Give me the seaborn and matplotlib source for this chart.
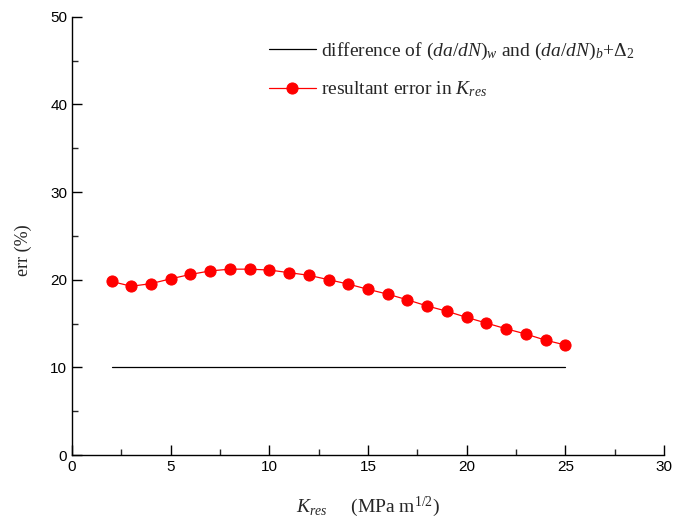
import matplotlib
matplotlib.use("Agg")
import matplotlib.pyplot as plt
import seaborn as sns
import pandas as pd
import numpy as np

k_res = [2, 3, 4, 5, 6, 7, 8, 9, 10, 11, 12, 13, 14, 15, 16, 17, 18, 19, 20, 21, 22, 23, 24, 25]
err_res = [19.8, 19.25, 19.55, 20.1, 20.6, 21.0, 21.2, 21.2, 21.1, 20.8, 20.5, 20.0, 19.5, 18.9,
           18.35, 17.7, 17.0, 16.4, 15.7, 15.05, 14.4, 13.8, 13.1, 12.55]
k_diff = [2, 25]
err_diff = [10, 10]

x_ticks = [0, 5, 10, 15, 20, 25, 30]
y_ticks = [0, 10, 20, 30, 40, 50]

sns.set_style("ticks")
plt.rcParams['font.family'] = ['Liberation Sans', 'DejaVu Sans']
plt.rcParams['mathtext.fontset'] = 'custom'
plt.rcParams['mathtext.rm'] = 'Liberation Serif'
plt.rcParams['mathtext.it'] = 'Liberation Serif:italic'
plt.rcParams['mathtext.bf'] = 'Liberation Serif:bold'
plt.rcParams['xtick.direction'] = 'in'
plt.rcParams['ytick.direction'] = 'in'

df_res = pd.DataFrame({"K": k_res, "err": err_res})
df_diff = pd.DataFrame({"K": k_diff, "err": err_diff})

fig = plt.figure(figsize=(6.74, 5.30), dpi=100)
ax = fig.add_axes([0.107, 0.1415, 0.878, 0.827])

sns.lineplot(data=df_diff, x="K", y="err", ax=ax, color="black", linewidth=0.9,
             label=r"difference of $(\it{da/dN})_{w}$ and $(\it{da/dN})_{b}$+$\Delta_{2}$")
sns.lineplot(data=df_res, x="K", y="err", ax=ax, color="red", linewidth=0.9,
             marker="o", markersize=8, markeredgecolor="red", markerfacecolor="red",
             label=r"resultant error in $\it{K}_{res}$")

ax.set_xlim(0, 30)
ax.set_ylim(0, 50)
ax.set_xticks(x_ticks)
ax.set_yticks(y_ticks)
ax.set_xticks(np.arange(2.5, 30, 5), minor=True)
ax.set_yticks(np.arange(5, 50, 10), minor=True)
ax.tick_params(axis="both", which="major", direction="in", length=7, width=1, labelsize=11, colors="black")
ax.tick_params(axis="both", which="minor", direction="in", length=4, width=1)
for s in ["top", "right"]:
    ax.spines[s].set_visible(False)
for s in ["left", "bottom"]:
    ax.spines[s].set_linewidth(1)
    ax.spines[s].set_color("black")

ax.set_xlabel(r"$\it{K}_{res}$     (MPa m$^{1/2}$)", fontsize=14, family="Liberation Serif", labelpad=15)
ax.set_ylabel("err (%)", fontsize=13, family="Liberation Serif")
ax.yaxis.set_label_coords(-0.068, 0.468)

leg = ax.legend(loc="upper right", bbox_to_anchor=(0.98, 0.985), frameon=False,
                prop={"family": "Liberation Serif", "size": 14}, handlelength=2.4,
                handletextpad=0.3, labelspacing=0.9)

fig.savefig("out.png", dpi=100)
